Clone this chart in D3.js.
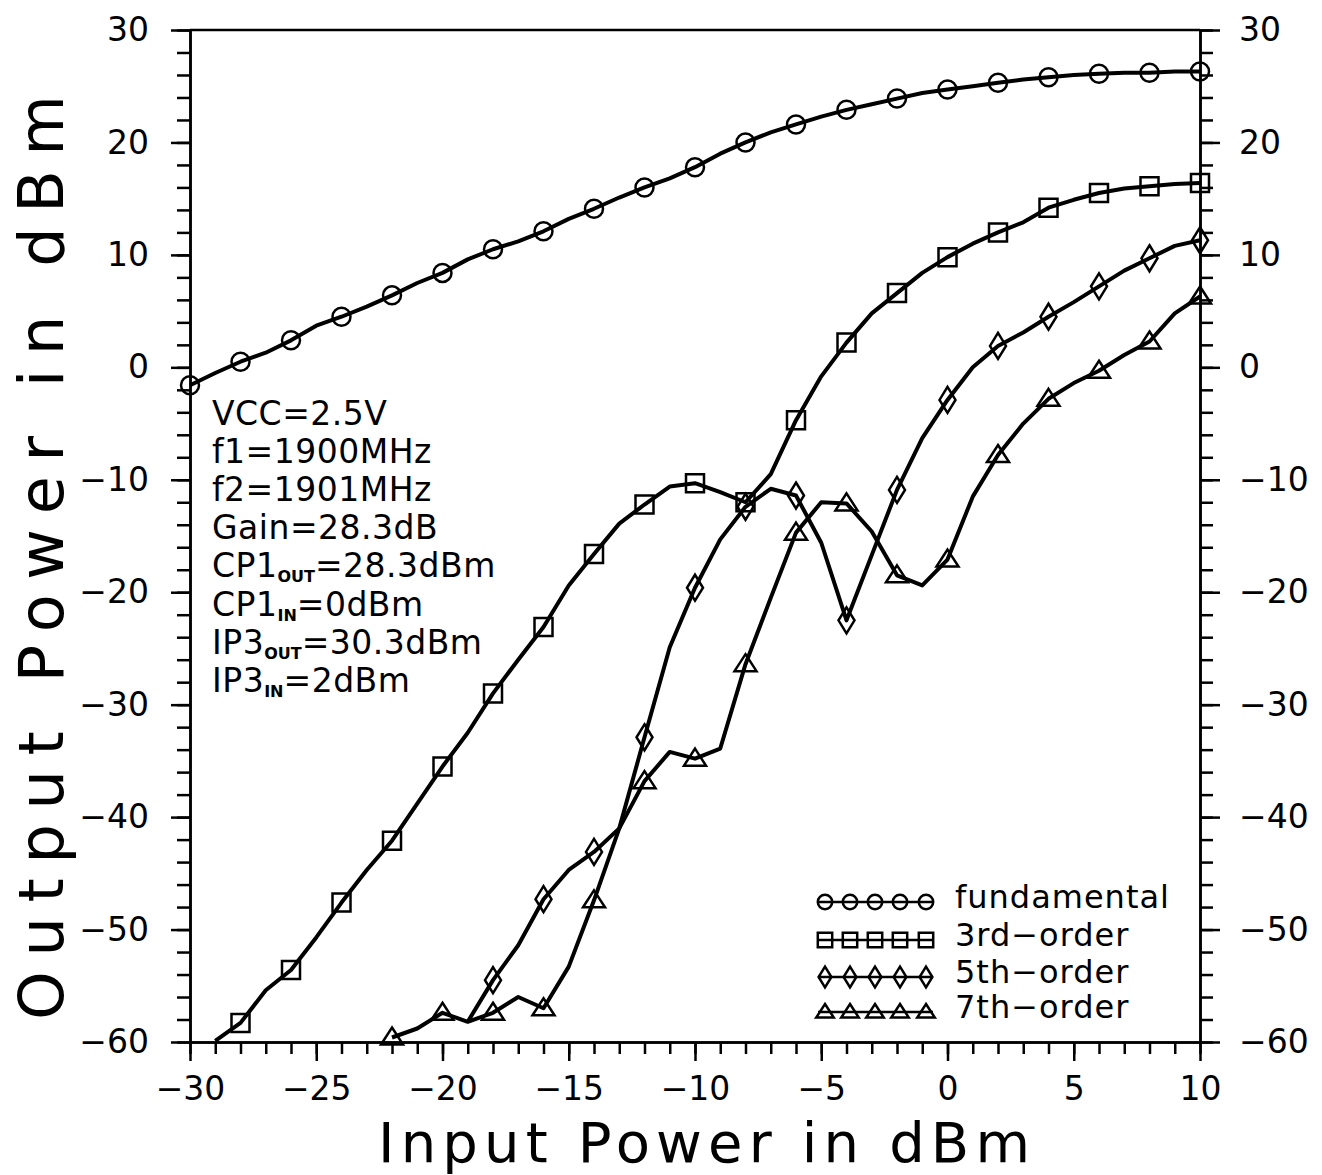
<!DOCTYPE html>
<html>
<head>
<meta charset="utf-8">
<script src="https://cdn.jsdelivr.net/npm/d3@7"></script>
<style>
  body { margin: 0; background: #fff; }
  text { font-family: "DejaVu Sans", "Liberation Sans", Arial, sans-serif; fill: #000; }
</style>
</head>
<body>
<div id="chart"></div>
<script>
// input power sweep (dBm)
const inputPower = [-30, -29, -28, -27, -26, -25, -24, -23, -22, -21, -20, -19, -18, -17, -16, -15, -14, -13, -12, -11,
                    -10, -9, -8, -7, -6, -5, -4, -3, -2, -1, 0, 1, 2, 3, 4, 5, 6, 7, 8, 9, 10];

// output power per series (dBm), aligned with inputPower, null = not measured
const fundamental = [-1.6, -0.5, 0.5, 1.3, 2.4, 3.7, 4.5, 5.4, 6.4, 7.5, 8.4, 9.6, 10.5, 11.2, 12.1, 13.2, 14.1, 15.1, 16.0, 16.8,
                     17.8, 19.0, 20.0, 20.9, 21.6, 22.3, 22.9, 23.4, 23.9, 24.4, 24.7, 25.0, 25.3, 25.6, 25.8, 26.0, 26.1, 26.2, 26.2, 26.3, 26.3];
const thirdOrder = [null, -59.9, -58.3, -55.4, -53.6, -50.7, -47.6, -44.7, -42.1, -38.8, -35.5, -32.5, -29.0, -26.0, -23.1, -19.4, -16.6, -13.9, -12.2, -10.6,
                    -10.3, -11.1, -12.0, -9.5, -4.7, -0.8, 2.2, 4.8, 6.6, 8.4, 9.8, 11.0, 12.0, 12.9, 14.2, 14.9, 15.5, 15.9, 16.1, 16.3, 16.4];
const fifthOrder = [null, null, null, null, null, null, null, null, null, null, null, -58.2, -54.5, -51.4, -47.3, -44.7, -43.1, -41.0, -32.9, -24.9,
                    -19.6, -15.3, -12.4, -10.8, -11.4, -15.6, -22.5, -16.7, -10.9, -6.3, -2.9, 0.0, 1.9, 3.1, 4.5, 5.8, 7.2, 8.6, 9.7, 10.8, 11.3];
const seventhOrder = [null, null, null, null, null, null, null, null, -59.6, -58.8, -57.4, -58.2, -57.4, -56.0, -57.0, -53.3, -47.4, -41.0, -36.8, -34.2,
                      -34.8, -33.9, -26.4, -20.5, -14.7, -12.0, -12.1, -14.6, -18.5, -19.4, -17.1, -11.5, -7.8, -5.0, -2.8, -1.4, -0.3, 1.1, 2.3, 4.8, 6.3];

const seriesNames = ["fundamental", "3rd\u2212order", "5th\u2212order", "7th\u2212order"];
const seriesMarkers = ["circle", "square", "diamond", "triangle"];

const xMajorTicks = [-30, -25, -20, -15, -10, -5, 0, 5, 10];
const yMajorTicks = [-60, -50, -40, -30, -20, -10, 0, 10, 20, 30];

const notes = [
    ["VCC=2.5V"],
    ["f1=1900MHz"],
    ["f2=1901MHz"],
    ["Gain=28.3dB"],
    ["CP1", "OUT", "=28.3dBm"],
    ["CP1", "IN", "=0dBm"],
    ["IP3", "OUT", "=30.3dBm"],
    ["IP3", "IN", "=2dBm"]
];

const fontFamily = "\"DejaVu Sans\", \"Liberation Sans\", Arial, sans-serif";
const width = 1322, height = 1175;
const svg = d3.select("#chart").append("svg")
    .attr("width", width)
    .attr("height", height)
    .attr("viewBox", `0 0 ${width} ${height}`);

svg.append("rect").attr("width", width).attr("height", height).attr("fill", "#fff");

// scales
const x = d3.scaleLinear().domain([-30, 10]).range([190, 1200]);
const y = d3.scaleLinear().domain([-60, 30]).range([1042, 30]);

const axisStroke = 2.5;

const styleAxis = g => {
    g.selectAll("path, line").attr("stroke", "#000").attr("stroke-width", axisStroke);
    g.selectAll("text").style("font-size", "33px").style("font-family", fontFamily);
};

// minor ticks (no labels)
svg.append("g").attr("transform", "translate(190,0)")
    .call(d3.axisLeft(y).tickValues(d3.range(-60, 31, 2)).tickSize(13).tickSizeOuter(0).tickFormat(""))
    .call(styleAxis);
svg.append("g").attr("transform", "translate(1200,0)")
    .call(d3.axisRight(y).tickValues(d3.range(-60, 31, 2)).tickSize(13).tickSizeOuter(0).tickFormat(""))
    .call(styleAxis);
svg.append("g").attr("transform", "translate(0,1042)")
    .call(d3.axisBottom(x).tickValues(d3.range(-30, 11, 1)).tickSize(12).tickSizeOuter(0).tickFormat(""))
    .call(styleAxis);

// major ticks with labels
svg.append("g").attr("transform", "translate(190,0)")
    .call(d3.axisLeft(y).tickValues(yMajorTicks).tickSize(19).tickPadding(22).tickSizeOuter(0))
    .call(styleAxis);
svg.append("g").attr("transform", "translate(1200,0)")
    .call(d3.axisRight(y).tickValues(yMajorTicks).tickSize(20).tickPadding(19).tickSizeOuter(0))
    .call(styleAxis);
svg.append("g").attr("transform", "translate(0,1042)")
    .call(d3.axisBottom(x).tickValues(xMajorTicks).tickSize(19).tickPadding(16).tickSizeOuter(0))
    .call(styleAxis);

// top frame line
svg.append("line")
    .attr("x1", x(-30)).attr("x2", x(10))
    .attr("y1", y(30)).attr("y2", y(30))
    .attr("stroke", "#000").attr("stroke-width", axisStroke);

// axis titles
svg.append("text")
    .attr("x", 378).attr("y", 1161.5)
    .attr("textLength", 652).attr("lengthAdjust", "spacing")
    .style("font-size", "56px")
    .text("Input  Power  in  dBm");

svg.append("text")
    .attr("transform", "translate(63,1020) rotate(-90)")
    .attr("textLength", 925).attr("lengthAdjust", "spacing")
    .style("font-size", "62px")
    .text("Output  Power  in  dBm");

// marker shapes
function markerPath(type, s) {
    if (type === "square") {
        return `M${-9 * s},${-9 * s}h${18 * s}v${18 * s}h${-18 * s}Z`;
    } else if (type === "diamond") {
        return `M0,${-13 * s}L${8 * s},0L0,${13 * s}L${-8 * s},0Z`;
    } else if (type === "triangle") {
        return `M0,${-10 * s}L${11 * s},${7 * s}L${-11 * s},${7 * s}Z`;
    }
    return "";
}

function drawMarker(g, type, cx, cy, s) {
    if (type === "circle") {
        g.append("circle").attr("cx", cx).attr("cy", cy).attr("r", 9 * s)
            .attr("fill", "none").attr("stroke", "#000").attr("stroke-width", 2.5);
    } else {
        g.append("path").attr("transform", `translate(${cx},${cy})`)
            .attr("d", markerPath(type, s))
            .attr("fill", "none").attr("stroke", "#000").attr("stroke-width", 2.5);
    }
}

// series lines
const allSeries = [fundamental, thirdOrder, fifthOrder, seventhOrder];
const line = d3.line()
    .defined(d => d.v !== null)
    .x(d => x(d.p))
    .y(d => y(d.v))
    .curve(d3.curveLinear);

const plot = svg.append("g");
allSeries.forEach((vals, si) => {
    const pts = inputPower.map((p, i) => ({ p: p, v: vals[i] }));
    plot.append("path")
        .datum(pts)
        .attr("d", line)
        .attr("fill", "none")
        .attr("stroke", "#000")
        .attr("stroke-width", 4)
        .attr("stroke-linejoin", "round");

    // markers every 2 dB
    pts.forEach(d => {
        if (d.v !== null && d.p % 2 === 0) {
            drawMarker(plot, seriesMarkers[si], x(d.p), y(d.v), 1);
        }
    });
});

// annotation block
const noteG = svg.append("g");
notes.forEach((parts, i) => {
    const t = noteG.append("text")
        .attr("x", 212)
        .attr("y", 425 + i * 38.1)
        .style("font-size", "33px")
        .style("letter-spacing", "0.5px");
    if (parts.length === 1) {
        t.text(parts[0]);
    } else {
        t.append("tspan").text(parts[0]);
        t.append("tspan").attr("dy", 5)
            .style("font-size", "16px").style("font-weight", "bold").style("letter-spacing", "0px")
            .text(parts[1]);
        t.append("tspan").attr("dy", -5).text(parts[2]);
    }
});

// legend
const legendG = svg.append("g");
const legendY = [902, 940, 977, 1012];
const legendMarkerX = [825, 850, 875, 900, 926];
seriesNames.forEach((name, i) => {
    legendG.append("line")
        .attr("x1", 818).attr("x2", 933)
        .attr("y1", legendY[i]).attr("y2", legendY[i])
        .attr("stroke", "#000").attr("stroke-width", 2.5);
    legendMarkerX.forEach(mx => drawMarker(legendG, seriesMarkers[i], mx, legendY[i], 0.8));
    legendG.append("text")
        .attr("x", 955)
        .attr("y", legendY[i] + 6)
        .style("font-size", "32px")
        .style("letter-spacing", "1px")
        .text(name);
});
</script>
</body>
</html>
